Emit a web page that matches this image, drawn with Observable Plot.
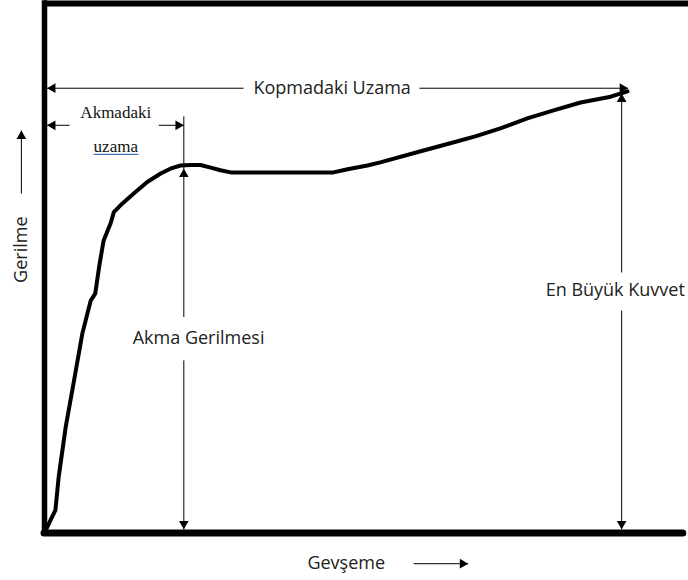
<!DOCTYPE html>
<html><head><meta charset="utf-8">
<script src="https://cdn.jsdelivr.net/npm/d3@7"></script>
<script src="https://cdn.jsdelivr.net/npm/@observablehq/plot@0.6"></script>
<style>
body{margin:0;background:#fff;}
#chart svg{display:block;}
</style>
</head><body><div id="chart"></div>
<script>
// Stress–strain curve (schematic), strain and stress in relative units (0–100)
const curveStrain = [0.4, 0.7, 1.7, 2.2, 3.3, 4.6, 5.9, 7.2, 7.9, 8.5, 9.2, 10.3, 10.8, 12.1, 13.9, 16.0, 18.1, 19.6, 21.2, 22.7, 24.3, 25.9, 27.4, 29.0, 36.8, 45.0, 47.2, 50.3, 52.3, 58.6, 63.2, 67.1, 71.0, 75.2, 79.3, 83.5, 88.2, 90.8];
const curveStress = [1.0, 1.8, 4.3, 10.5, 20.0, 28.8, 37.7, 43.9, 45.2, 50.2, 55.2, 58.5, 60.6, 62.2, 64.1, 66.3, 67.9, 68.8, 69.4, 69.5, 69.5, 69.0, 68.5, 68.1, 68.1, 68.1, 68.7, 69.4, 70.0, 72.1, 73.6, 74.9, 76.4, 78.3, 79.8, 81.3, 82.4, 83.4];

// Dimension line pieces (strain/stress values of their ends)
const dimSegments = [
  {x1: 0.4,  y1: 84.0, x2: 31.0, y2: 84.0},
  {x1: 58.4, y1: 84.0, x2: 90.9, y2: 84.0},
  {x1: 0.4,  y1: 77.0, x2: 3.9,  y2: 77.0},
  {x1: 17.8, y1: 77.0, x2: 21.7, y2: 77.0},
  {x1: 21.7, y1: 78.7, x2: 21.7, y2: 40.8},
  {x1: 21.7, y1: 32.6, x2: 21.7, y2: 0.7},
  {x1: 89.9, y1: 83.0, x2: 89.9, y2: 49.2},
  {x1: 89.9, y1: 42.0, x2: 89.9, y2: 0.7},
  {x1: -3.6, y1: 64.1, x2: -3.6, y2: 76.0},
  {x1: 57.5, y1: -5.8, x2: 66.0, y2: -5.8}
];
const arrowHeads = [
  {x: 0.4,  y: 84.0, dir: "left"},
  {x: 90.9, y: 84.0, dir: "right"},
  {x: 0.4,  y: 77.0, dir: "left"},
  {x: 21.7, y: 77.0, dir: "right"},
  {x: 21.7, y: 68.8, dir: "up"},
  {x: 21.7, y: 0.7,  dir: "down"},
  {x: 89.9, y: 83.0, dir: "up"},
  {x: 89.9, y: 0.7,  dir: "down"},
  {x: -3.6, y: 76.0, dir: "up"},
  {x: 66.0, y: -5.8, dir: "right"}
];
const sansLabels = [
  {text: "Kopmadaki Uzama", x: 44.8, y: 84.0},
  {text: "Akma Gerilmesi",  x: 24.0, y: 36.7},
  {text: "En Büyük Kuvvet", x: 88.9, y: 45.8},
  {text: "Gevşeme",         x: 47.0, y: -5.8}
];
const serifLabels = [
  {text: "Akmadaki", x: 11.1, y: 79.5},
  {text: "uzama",    x: 11.1, y: 72.9}
];
const yLabel = [{text: "Gerilme", x: -3.7, y: 53.5}];

const curve = curveStrain.map((s, i) => ({strain: s, stress: curveStress[i]}));

const headR = 3.6;
const tipOff = 2 * Math.sqrt(Math.PI * headR * headR / (Math.sqrt(3) * 3));
const dirs = {
  right: {rotate: 90, dx: -tipOff, dy: 0},
  left: {rotate: -90, dx: tipOff, dy: 0},
  up: {rotate: 0, dx: 0, dy: tipOff},
  down: {rotate: 180, dx: 0, dy: -tipOff}
};
const headMarks = Object.entries(dirs).map(([k, o]) =>
  Plot.dot(arrowHeads.filter(d => d.dir === k), {
    x: "x", y: "y", symbol: "triangle", r: headR, fill: "#000", stroke: null,
    rotate: o.rotate, dx: o.dx, dy: o.dy
  })
);

const sans = "'Open Sans', 'Noto Sans', sans-serif";
const serif = "'Liberation Serif', 'DejaVu Serif', serif";

const chart = Plot.plot({
  width: 688,
  height: 580,
  marginLeft: 44,
  marginRight: 2,
  marginTop: 3,
  marginBottom: 47.5,
  x: {domain: [0, 100], axis: null},
  y: {domain: [0, 100], axis: null},
  style: {background: "#fff", overflow: "visible"},
  marks: [
    Plot.ruleY([100], {x1: 0, x2: 101, stroke: "#000", strokeWidth: 6}),
    Plot.ruleX([0], {stroke: "#000", strokeWidth: 5.5, strokeLinecap: "square"}),
    Plot.ruleY([0], {x1: 0, x2: 99.5, stroke: "#000", strokeWidth: 7, strokeLinecap: "round"}),
    Plot.link(dimSegments, {x1: "x1", y1: "y1", x2: "x2", y2: "y2", stroke: "#000", strokeWidth: 1}),
    ...headMarks,
    Plot.line(curve, {x: "strain", y: "stress", stroke: "#000", strokeWidth: 4, strokeLinejoin: "round", strokeLinecap: "round"}),
    Plot.text(sansLabels, {x: "x", y: "y", text: "text", fontFamily: sans, fontSize: 18, fill: "#222"}),
    Plot.text(serifLabels, {x: "x", y: "y", text: "text", fontFamily: serif, fontSize: 17, fill: "#111"}),
    Plot.text(yLabel, {x: "x", y: "y", text: "text", rotate: -90, fontFamily: sans, fontSize: 18, fill: "#222"})
  ]
});
document.getElementById("chart").appendChild(chart);

// blue underline under "uzama" (as in the source document)
chart.querySelectorAll("text").forEach(t => {
  if (t.textContent === "uzama") {
    const b = t.getBBox();
    const ln = document.createElementNS("http://www.w3.org/2000/svg", "line");
    const yy = b.y + b.height - 2;
    ln.setAttribute("x1", b.x); ln.setAttribute("x2", b.x + b.width);
    ln.setAttribute("y1", yy); ln.setAttribute("y2", yy);
    const tr = t.getAttribute("transform");
    if (tr) ln.setAttribute("transform", tr);
    ln.setAttribute("stroke", "#4472c4"); ln.setAttribute("stroke-width", 1.3);
    t.parentNode.appendChild(ln);
  }
});
</script>
</body></html>
